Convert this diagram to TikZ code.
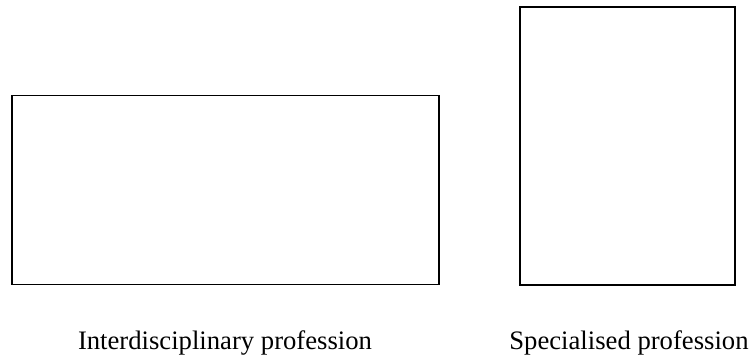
\documentclass[tikz,border=0pt]{standalone}
\usepackage{fontspec}
\setmainfont{Liberation Serif}
\usepackage{tikz}

\tikzset{
  profbox/.style={draw, line width=1.2pt, inner sep=0pt},
  proflabel/.style={font=\fontsize{20}{24}\selectfont, anchor=base}
}

\begin{document}
\begin{tikzpicture}[x=0.75pt,y=-0.75pt]
      \useasboundingbox (0,0) rectangle (754,358);

      \node[profbox, minimum width=427*0.75pt, minimum height=189*0.75pt] (inter-box) at (225.5,190) {};
      \node[profbox, minimum width=215*0.75pt, minimum height=278*0.75pt] (spec-box)  at (627.5,146) {};

      \node[proflabel] (inter-label) at (225,349) {Interdisciplinary profession};
      \node[proflabel] (spec-label)  at (629,349) {Specialised profession};
    \end{tikzpicture}
\end{document}
